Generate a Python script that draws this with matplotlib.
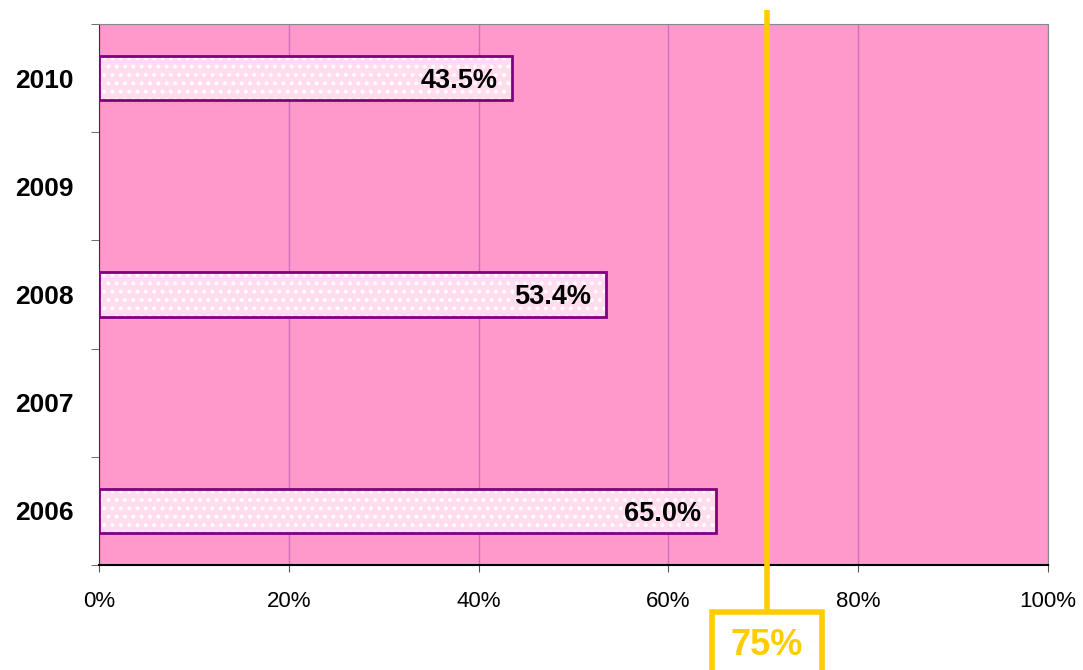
import numpy as np
import matplotlib.pyplot as plt
from matplotlib.patches import Rectangle
from matplotlib.transforms import blended_transform_factory

# data
years = ["2006", "2007", "2008", "2009", "2010"]
rates = [65.0, np.nan, 53.4, np.nan, 43.5]
x_ticks = [0, 20, 40, 60, 80, 100]
x_tick_labels = ["0%", "20%", "40%", "60%", "80%", "100%"]
target_pos = 70.4
target_label = "75%"

pink_bg = "#FF99CC"
bar_face = "#FFDDEE"
bar_edge = "#800080"
gold = "#FFCC00"

plt.rcParams["hatch.linewidth"] = 1.6

fig = plt.figure(figsize=(10.83, 6.70), dpi=100)
ax = fig.add_axes([99 / 1083, 1 - 565 / 670, 949 / 1083, 541 / 670])
ax.set_facecolor(pink_bg)

ypos = np.arange(len(years))
# patterned fill, then the purple outline on top
ax.barh(ypos, rates, height=0.41, color=bar_face, edgecolor="white",
        hatch="..", linewidth=0, zorder=2)
ax.barh(ypos, rates, height=0.41, color="none", edgecolor=bar_edge,
        linewidth=2, zorder=3)

for y, v in zip(ypos, rates):
    if np.isnan(v):
        continue
    ax.text(v - 1.5, y, f"{v:.1f}%", ha="right", va="center_baseline",
            fontsize=19.5, fontweight="bold", fontfamily="Liberation Sans",
            zorder=4)

ax.set_xlim(0, 100)
ax.set_ylim(-0.5, len(years) - 0.5)

ax.set_xticks(x_ticks)
ax.set_xticklabels(x_tick_labels, fontsize=16, fontfamily="Liberation Sans")
ax.set_yticks(ypos)
ax.set_yticklabels(years, fontsize=19, fontweight="bold",
                   fontfamily="Liberation Sans")
ax.set_yticks(np.arange(-0.5, len(years), 1), minor=True)
ax.tick_params(axis="y", which="major", length=0, pad=18)
ax.tick_params(axis="y", which="minor", length=6, direction="out",
               color="#555555")
ax.tick_params(axis="x", length=5, direction="out", color="#555555", pad=14)

ax.grid(axis="x", color="#CF6FBE", linewidth=1, zorder=1)
ax.set_axisbelow(True)

ax.spines["left"].set_color("#333333")
ax.spines["bottom"].set_color("black")
ax.spines["bottom"].set_linewidth(1.5)
ax.spines["top"].set_color("#888888")
ax.spines["right"].set_color("#888888")

# target line with its label box below the axis
trans = blended_transform_factory(ax.transData, ax.transAxes)
ax.plot([target_pos, target_pos], [1.026, -0.087], color=gold, linewidth=4,
        transform=trans, clip_on=False, zorder=5, solid_capstyle="butt")
box_w = 11.6
ax.add_patch(Rectangle((target_pos - box_w / 2, -0.22), box_w, 0.133,
                       transform=trans, clip_on=False, facecolor="white",
                       edgecolor=gold, linewidth=4, zorder=5))
ax.text(target_pos, -0.141, target_label, transform=trans, ha="center",
        va="center_baseline", fontsize=26, fontweight="bold", color=gold,
        fontfamily="Liberation Sans", zorder=6)

fig.savefig("out.png", dpi=100)
